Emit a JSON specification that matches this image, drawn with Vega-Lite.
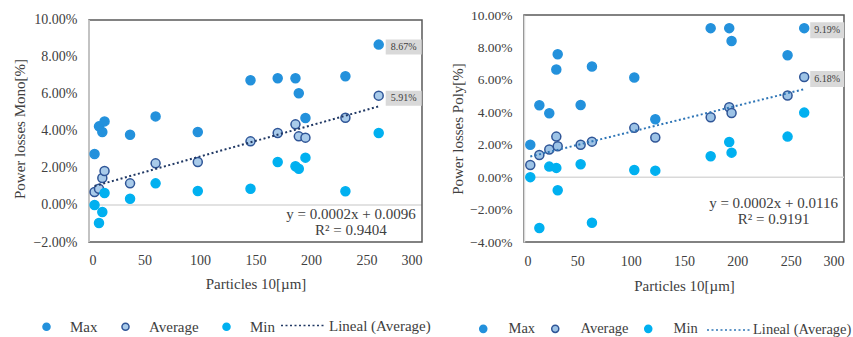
{
  "$schema": "https://vega.github.io/schema/vega-lite/v6.json",
  "padding": {"left": 12, "top": 7, "right": 0, "bottom": 0},
  "background": "white",
  "spacing": 102,
  "bounds": "flush",
  "config": {
    "font": "Liberation Serif",
    "view": {"stroke": "#595959", "strokeWidth": 1.5},
    "axis": {
      "labelFont": "Liberation Serif", "titleFont": "Liberation Serif",
      "labelColor": "#404040", "titleColor": "#404040", "titleFontWeight": "normal",
      "grid": false, "ticks": false, "domain": false, "labelOverlap": false, "tickCount": 12
    },
    "legend": {"labelFont": "Liberation Serif", "labelColor": "#404040", "padding": 0, "labelAlign": "left"}
  },
  "datasets": {
    "mono": [
      {"x": 5, "Max": 0.0276, "Average": 0.0070, "Min": 0.0000},
      {"x": 9, "Max": 0.0425, "Average": 0.0088, "Min": -0.0097},
      {"x": 12, "Max": 0.0395, "Average": 0.0146, "Min": -0.0038},
      {"x": 14, "Max": 0.0452, "Average": 0.0184, "Min": 0.0065},
      {"x": 37, "Max": 0.0380, "Average": 0.0117, "Min": 0.0034},
      {"x": 60, "Max": 0.0479, "Average": 0.0225, "Min": 0.0117},
      {"x": 98, "Max": 0.0395, "Average": 0.0232, "Min": 0.0076},
      {"x": 145.5, "Max": 0.0674, "Average": 0.0344, "Min": 0.0088},
      {"x": 170, "Max": 0.0685, "Average": 0.0389, "Min": 0.0232},
      {"x": 186, "Max": 0.0685, "Average": 0.0436, "Min": 0.0209},
      {"x": 189, "Max": 0.0604, "Average": 0.0371, "Min": 0.0196},
      {"x": 195, "Max": 0.0470, "Average": 0.0364, "Min": 0.0256},
      {"x": 231, "Max": 0.0696, "Average": 0.0472, "Min": 0.0074},
      {"x": 261, "Max": 0.0867, "Average": 0.0591, "Min": 0.0389}
    ],
    "poly": [
      {"x": 5.9, "Max": 0.0200, "Average": 0.0075, "Min": 0.0000},
      {"x": 14.4, "Max": 0.0443, "Average": 0.0137, "Min": -0.0314},
      {"x": 23.7, "Max": 0.0394, "Average": 0.0170, "Min": 0.0065},
      {"x": 30.3, "Max": 0.0664, "Average": 0.0250, "Min": 0.0057},
      {"x": 31.6, "Max": 0.0758, "Average": 0.0190, "Min": -0.0081},
      {"x": 53.1, "Max": 0.0445, "Average": 0.0200, "Min": 0.0079},
      {"x": 63.7, "Max": 0.0682, "Average": 0.0219, "Min": -0.0281},
      {"x": 103.4, "Max": 0.0614, "Average": 0.0304, "Min": 0.0044},
      {"x": 123.1, "Max": 0.0357, "Average": 0.0244, "Min": 0.0040},
      {"x": 175, "Max": 0.0919, "Average": 0.0369, "Min": 0.0129},
      {"x": 192.4, "Max": 0.0919, "Average": 0.0431, "Min": 0.0217},
      {"x": 194.6, "Max": 0.0840, "Average": 0.0396, "Min": 0.0151},
      {"x": 247.1, "Max": 0.0752, "Average": 0.0503, "Min": 0.0250},
      {"x": 262.7, "Max": 0.0919, "Average": 0.0618, "Min": 0.0398}
    ]
  },
  "resolve": {
    "scale": {"x": "independent", "y": "independent", "color": "independent", "stroke": "independent", "strokeDash": "independent"},
    "legend": {"color": "independent", "strokeDash": "independent"}
  },
  "hconcat": [
    {
      "width": 333,
      "height": 227,
      "view": {"stroke": null},
      "data": {"name": "mono"},
      "layer": [
        {
          "data": {"values": [{}]},
          "mark": {"type": "rule", "color": "#d9d9d9", "strokeWidth": 1.5},
          "encoding": {"y": {"datum": 0, "type": "quantitative"}}
        },
        {
          "data": {"values": [{}]},
          "mark": {"type": "rect", "filled": false, "stroke": "#595959", "strokeWidth": 1.5},
          "encoding": {"x": {"datum": 0, "type": "quantitative"}, "x2": {"datum": 300}, "y": {"datum": -0.02, "type": "quantitative"}, "y2": {"datum": 0.10}}
        },
        {
          "data": {"values": [{}]},
          "mark": {"type": "rule", "color": "#d9d9d9", "strokeWidth": 1.5},
          "encoding": {"x": {"datum": 0, "type": "quantitative"}, "y": {"datum": -0.02, "type": "quantitative"}, "y2": {"datum": 0.10}}
        },
        {
          "transform": [{"fold": ["Max", "Average", "Min"], "as": ["series", "v"]}],
          "mark": {"type": "point", "filled": true, "size": 81, "strokeWidth": 1.5, "opacity": 1},
          "encoding": {
            "x": {"field": "x", "type": "quantitative", "scale": {"domain": [0, 300], "nice": false},
              "axis": {"values": [0, 50, 100, 150, 200, 250, 300], "tickCount": 12, "title": "Particles 10[µm]", "labelFontSize": 14, "titleFontSize": 15, "labelPadding": 11, "titlePadding": 9, "labelOverlap": false}},
            "y": {"field": "v", "type": "quantitative", "scale": {"domain": [-0.02, 0.1027], "nice": false, "zero": false},
              "axis": {"values": [-0.02, 0, 0.02, 0.04, 0.06, 0.08, 0.10], "tickCount": 12, "format": ".2%", "title": "Power losses Mono[%]", "labelFontSize": 14, "titleFontSize": 15, "labelPadding": 12, "titlePadding": 5, "labelOverlap": false}},
            "color": {"field": "series", "type": "nominal", "scale": {"domain": ["Max", "Average", "Min"], "range": ["#2391dc", "#a9cbea", "#00b0f0"]},
              "legend": {"orient": "none", "legendX": -50, "legendY": 304, "direction": "horizontal", "title": null, "labelFontSize": 15, "symbolSize": 50, "symbolStrokeWidth": 1.5, "labelOffset": 16, "columnPadding": 20,
                "encode": {"symbols": {"update": {"stroke": {"signal": "datum.value === 'Average' ? '#2f5597' : datum.value === 'Max' ? '#2391dc' : '#00b0f0'"}, "strokeWidth": {"value": 1.5}}}}}},
            "stroke": {"field": "series", "type": "nominal", "scale": {"domain": ["Max", "Average", "Min"], "range": ["#2391dc", "#2f5597", "#00b0f0"]}, "legend": null}
          }
        },
        {
          "transform": [{"regression": "Average", "on": "x"}],
          "mark": {"type": "line", "strokeWidth": 2, "color": "#203864"},
          "encoding": {
            "x": {"field": "x", "type": "quantitative"},
            "y": {"field": "Average", "type": "quantitative"},
            "strokeDash": {"datum": "Lineal (Average)", "type": "nominal", "scale": {"range": [[2, 2.5]]},
              "legend": {"orient": "none", "legendX": 191, "legendY": 287, "title": null, "labelFontSize": 15, "symbolType": "stroke", "symbolSize": 2025, "symbolStrokeWidth": 1.5, "symbolStrokeColor": "#203864", "labelOffset": 2}}
          }
        },
        {
          "transform": [{"fold": ["Max", "Average"], "as": ["series", "v"]}, {"filter": "datum.x == 261"}],
          "mark": {"type": "rect", "color": "#d9d9d9", "width": 36, "height": 15, "xOffset": 25, "yOffset": 2.5},
          "encoding": {"x": {"field": "x", "type": "quantitative"}, "y": {"field": "v", "type": "quantitative"}}
        },
        {
          "transform": [{"fold": ["Max", "Average"], "as": ["series", "v"]}, {"filter": "datum.x == 261"}],
          "mark": {"type": "text", "fontSize": 10, "color": "#404040", "dx": 25, "dy": 2.5},
          "encoding": {"x": {"field": "x", "type": "quantitative"}, "y": {"field": "v", "type": "quantitative"}, "text": {"field": "v", "type": "quantitative", "format": ".2%"}}
        },
        {
          "data": {"values": [{}]},
          "mark": {"type": "text", "fontSize": 15, "color": "#404040", "baseline": "top", "align": "center", "lineHeight": 16, "text": ["y = 0.0002x + 0.0096", "R² = 0.9404"]},
          "encoding": {"x": {"datum": 236, "type": "quantitative"}, "y": {"datum": -0.0011, "type": "quantitative"}}
        }
      ]
    },
    {
      "width": 320,
      "height": 227,
      "data": {"name": "poly"},
      "layer": [
        {
          "data": {"values": [{}]},
          "mark": {"type": "rule", "color": "#d9d9d9", "strokeWidth": 1.5},
          "encoding": {"y": {"datum": 0, "type": "quantitative"}}
        },
        {
          "transform": [{"fold": ["Max", "Average", "Min"], "as": ["series", "v"]}],
          "mark": {"type": "point", "filled": true, "size": 81, "strokeWidth": 1.5, "opacity": 1},
          "encoding": {
            "x": {"field": "x", "type": "quantitative", "scale": {"domain": [0, 300], "nice": false},
              "axis": {"values": [0, 50, 100, 150, 200, 250, 300], "tickCount": 12, "title": "Particles 10[µm]", "labelFontSize": 14, "titleFontSize": 15, "labelPadding": 12, "titlePadding": 10.5, "labelOverlap": false}},
            "y": {"field": "v", "type": "quantitative", "scale": {"domain": [-0.04, 0.10], "nice": false, "zero": false},
              "axis": {"values": [-0.04, -0.02, 0, 0.02, 0.04, 0.06, 0.08, 0.10], "tickCount": 12, "format": ".2%", "title": "Power losses Poly[%]", "labelFontSize": 13.5, "titleFontSize": 15, "labelPadding": 12, "titlePadding": 4, "labelOverlap": false, "domain": true, "domainColor": "#d9d9d9", "domainWidth": 1.5}},
            "color": {"field": "series", "type": "nominal", "scale": {"domain": ["Max", "Average", "Min"], "range": ["#2391dc", "#9dc3e6", "#00b0f0"]},
              "legend": {"orient": "none", "legendX": -48, "legendY": 306.5, "direction": "horizontal", "title": null, "labelFontSize": 14.5, "symbolSize": 50, "symbolStrokeWidth": 1.5, "labelOffset": 18, "columnPadding": 12,
                "encode": {"symbols": {"update": {"stroke": {"signal": "datum.value === 'Average' ? '#2f5597' : datum.value === 'Max' ? '#2391dc' : '#00b0f0'"}, "strokeWidth": {"value": 1.5}}}}}},
            "stroke": {"field": "series", "type": "nominal", "scale": {"domain": ["Max", "Average", "Min"], "range": ["#2391dc", "#2f5597", "#00b0f0"]}, "legend": null}
          }
        },
        {
          "transform": [{"regression": "Average", "on": "x"}],
          "mark": {"type": "line", "strokeWidth": 2, "color": "#2e75b6"},
          "encoding": {
            "x": {"field": "x", "type": "quantitative"},
            "y": {"field": "Average", "type": "quantitative"},
            "strokeDash": {"datum": "Lineal (Average)", "type": "nominal", "scale": {"range": [[2, 2.5]]},
              "legend": {"orient": "none", "legendX": 182, "legendY": 292.5, "title": null, "labelFontSize": 14.5, "symbolType": "stroke", "symbolSize": 1849, "symbolStrokeWidth": 1.5, "symbolStrokeColor": "#2e75b6", "labelOffset": 2}}
          }
        },
        {
          "transform": [{"fold": ["Max", "Average"], "as": ["series", "v"]}, {"filter": "datum.x == 262.7"}],
          "mark": {"type": "rect", "color": "#d9d9d9", "width": 34, "height": 16, "xOffset": 23, "yOffset": 2},
          "encoding": {"x": {"field": "x", "type": "quantitative"}, "y": {"field": "v", "type": "quantitative"}}
        },
        {
          "transform": [{"fold": ["Max", "Average"], "as": ["series", "v"]}, {"filter": "datum.x == 262.7"}],
          "mark": {"type": "text", "fontSize": 10, "color": "#404040", "dx": 23, "dy": 2},
          "encoding": {"x": {"field": "x", "type": "quantitative"}, "y": {"field": "v", "type": "quantitative"}, "text": {"field": "v", "type": "quantitative", "format": ".2%"}}
        },
        {
          "data": {"values": [{}]},
          "mark": {"type": "text", "fontSize": 15, "color": "#404040", "baseline": "top", "align": "center", "lineHeight": 16, "text": ["y = 0.0002x + 0.0116", "R² = 0.9191"]},
          "encoding": {"x": {"datum": 234, "type": "quantitative"}, "y": {"datum": -0.0115, "type": "quantitative"}}
        }
      ]
    }
  ]
}
